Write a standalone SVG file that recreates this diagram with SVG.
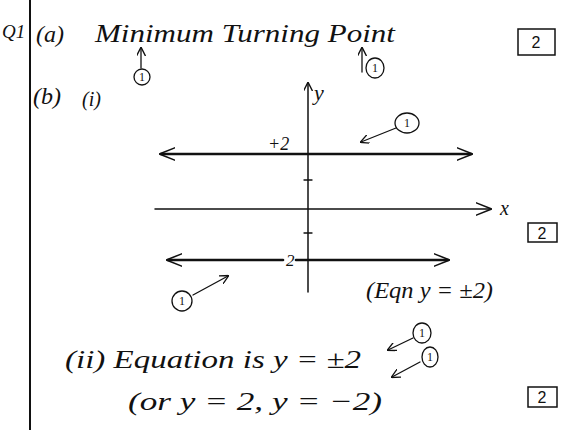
<svg xmlns="http://www.w3.org/2000/svg" width="562" height="430" viewBox="0 0 562 430">
<defs>
<style>
.t{font-family:"Liberation Serif",serif;font-style:italic;fill:#111}
.ln{stroke:#111;fill:none;stroke-linecap:round;stroke-linejoin:round}
.circ{stroke:#111;fill:none;stroke-width:1.3}
.n{font-family:"Liberation Serif",serif;font-size:12px;fill:#111;text-anchor:middle}
.box{stroke:#111;fill:none;stroke-width:1.5}
.bx{font-family:"Liberation Sans",sans-serif;font-size:16px;fill:#111;text-anchor:middle}
</style>
<marker id="ah" viewBox="0 0 10 10" refX="9" refY="5" markerWidth="9" markerHeight="9" orient="auto-start-reverse" markerUnits="userSpaceOnUse">
<path d="M0,0 L10,5 L0,10" fill="none" stroke="#111" stroke-width="1.5"/>
</marker>
<marker id="ahb" viewBox="0 0 10 10" refX="9" refY="5" markerWidth="16" markerHeight="16" orient="auto-start-reverse" markerUnits="userSpaceOnUse">
<path d="M0,1 L10,5 L0,9" fill="none" stroke="#111" stroke-width="1"/>
</marker>
</defs>
<rect width="562" height="430" fill="#fff"/>
<line class="ln" x1="30" y1="0" x2="30" y2="430" stroke-width="2"/>
<text class="t" x="2" y="38" font-size="19" font-style="normal">Q1</text>

<g id="part-a">
<text class="t" x="36" y="42" font-size="24">(a)</text>
<text class="t" x="95" y="42" font-size="26" textLength="300" lengthAdjust="spacingAndGlyphs">Minimum Turning Point</text>
<line class="ln" x1="141" y1="68" x2="141" y2="48" stroke-width="1.3" marker-end="url(#ah)"/>
<ellipse class="circ" cx="142" cy="77" rx="8" ry="8"/>
<text class="n" x="142" y="81">1</text>
<line class="ln" x1="362" y1="72" x2="362" y2="48" stroke-width="1.3" marker-end="url(#ah)"/>
<ellipse class="circ" cx="375" cy="68" rx="9" ry="10"/>
<text class="n" x="375" y="72">1</text>
<rect class="box" x="518" y="29" width="37" height="26"/>
<text class="bx" x="536" y="48">2</text>
</g>

<g id="part-b">
<text class="t" x="33" y="104" font-size="24">(b)</text>
<text class="t" x="82" y="106" font-size="20">(i)</text>
</g>

<g id="graph">
<line class="ln" x1="308" y1="292" x2="308" y2="83" stroke-width="1.5" marker-end="url(#ah)"/>
<text class="t" x="314" y="100" font-size="22">y</text>
<line class="ln" x1="155" y1="209" x2="490" y2="209" stroke-width="1.5" marker-end="url(#ahb)"/>
<text class="t" x="500" y="215" font-size="20">x</text>
<line class="ln" x1="304" y1="180" x2="312" y2="180" stroke-width="1.3"/>
<line class="ln" x1="304" y1="233" x2="312" y2="233" stroke-width="1.3"/>
<line class="ln" x1="161" y1="154" x2="471" y2="154" stroke-width="2.6" marker-start="url(#ahb)" marker-end="url(#ahb)"/>
<text class="t" x="268" y="150" font-size="18" font-style="normal">+2</text>
<line class="ln" x1="168" y1="260" x2="283" y2="260" stroke-width="2.6" marker-start="url(#ahb)"/>
<text class="t" x="286" y="266" font-size="17" font-style="normal">2</text>
<line class="ln" x1="296" y1="260" x2="448" y2="260" stroke-width="2.6" marker-end="url(#ahb)"/>
<line class="ln" x1="396" y1="128" x2="361" y2="142" stroke-width="1.3" marker-end="url(#ah)"/>
<ellipse class="circ" cx="407" cy="123" rx="12" ry="10"/>
<text class="n" x="407" y="127">1</text>
<line class="ln" x1="193" y1="295" x2="228" y2="276" stroke-width="1.3" marker-end="url(#ah)"/>
<ellipse class="circ" cx="182" cy="301" rx="10" ry="10"/>
<text class="n" x="182" y="305">1</text>
<text class="t" x="366" y="298" font-size="24" textLength="127" lengthAdjust="spacingAndGlyphs">(Eqn y = ±2)</text>
<rect class="box" x="528" y="223" width="29" height="19"/>
<text class="bx" x="542" y="239">2</text>
</g>

<g id="part-b-ii">
<text class="t" x="65" y="368" font-size="26" textLength="296" lengthAdjust="spacingAndGlyphs">(ii) Equation is y = ±2</text>
<text class="t" x="128" y="410" font-size="26" textLength="254" lengthAdjust="spacingAndGlyphs">(or y = 2, y = −2)</text>
<line class="ln" x1="413" y1="338" x2="388" y2="350" stroke-width="1.3" marker-end="url(#ah)"/>
<ellipse class="circ" cx="422" cy="333" rx="9" ry="10"/>
<text class="n" x="422" y="337">1</text>
<line class="ln" x1="420" y1="362" x2="392" y2="377" stroke-width="1.3" marker-end="url(#ah)"/>
<ellipse class="circ" cx="430" cy="357" rx="8" ry="10"/>
<text class="n" x="430" y="361">1</text>
<rect class="box" x="528" y="387" width="29" height="20"/>
<text class="bx" x="542" y="403">2</text>
</g>
</svg>
